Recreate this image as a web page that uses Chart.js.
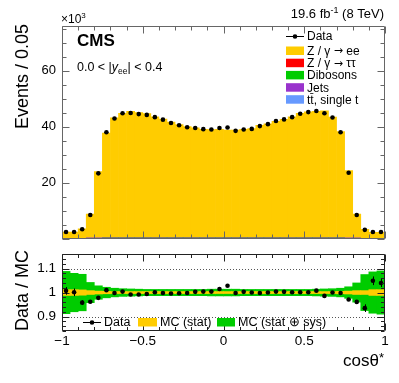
<!DOCTYPE html>
<html><head><meta charset="utf-8">
<script src="https://cdn.jsdelivr.net/npm/chart.js@4"></script>
<style>
html,body{margin:0;padding:0;background:#fff;width:399px;height:383px;overflow:hidden}
#c1{position:absolute;left:0;top:0}
#c2{position:absolute;left:0;top:240px}
</style></head><body>
<canvas id="c1" width="399" height="260"></canvas>
<canvas id="c2" width="399" height="143"></canvas>
<script>
// ---- binning (cos theta*) ----
const binLow = -1, binWidth = 0.05, nBins = 40;
const categories = Array.from({length: nBins}, (_, i) => (binLow + (i + 0.5) * binWidth).toFixed(3));

// ---- top panel: events / 0.05 (x10^3) ----
const dataCounts = [2.3,2.3,3.3,8.4,23.3,38.0,42.9,44.8,44.9,44.5,44.2,43.4,42.5,41.3,40.5,39.8,39.5,39.1,39.0,39.5,
                    39.7,38.5,39.0,39.2,40.2,40.9,42.0,42.6,43.4,44.6,45.2,45.6,44.8,43.3,38.0,23.5,8.4,3.1,2.3,2.3];
const zeeMC     = [2.2,2.2,3.35,8.6,23.7,37.5,42.9,44.5,45.2,44.8,44.4,43.3,42.5,41.4,40.5,39.8,39.3,38.8,38.7,38.8,
                    38.5,38.5,38.8,39.1,40.2,40.8,41.7,42.4,43.3,44.5,45.1,45.2,45.4,43.2,38.0,24.1,8.6,3.2,2.1,2.1];
const tautauMC  = [0.01,0.01,0.01,0.02,0.03,0.04,0.04,0.04,0.04,0.04,0.04,0.04,0.04,0.04,0.04,0.04,0.04,0.04,0.04,0.04,
                    0.04,0.04,0.04,0.04,0.04,0.04,0.04,0.04,0.04,0.04,0.04,0.04,0.04,0.04,0.04,0.03,0.02,0.01,0.01,0.01];
const dibosonMC = [0.05,0.05,0.06,0.08,0.10,0.12,0.12,0.12,0.12,0.12,0.12,0.12,0.12,0.12,0.12,0.12,0.12,0.12,0.12,0.12,
                    0.12,0.12,0.12,0.12,0.12,0.12,0.12,0.12,0.12,0.12,0.12,0.12,0.12,0.12,0.12,0.10,0.08,0.06,0.05,0.05];
const jetsMC    = [0.01,0.01,0.01,0.02,0.02,0.03,0.03,0.03,0.03,0.03,0.03,0.03,0.03,0.03,0.03,0.03,0.03,0.03,0.03,0.03,
                    0.03,0.03,0.03,0.03,0.03,0.03,0.03,0.03,0.03,0.03,0.03,0.03,0.03,0.03,0.03,0.02,0.02,0.01,0.01,0.01];
const ttbarMC   = [0.02,0.02,0.02,0.03,0.04,0.05,0.05,0.05,0.05,0.05,0.05,0.05,0.05,0.05,0.05,0.05,0.05,0.05,0.05,0.05,
                    0.05,0.05,0.05,0.05,0.05,0.05,0.05,0.05,0.05,0.05,0.05,0.05,0.05,0.05,0.05,0.04,0.03,0.02,0.02,0.02];

// ---- bottom panel: Data / MC ----
const ratioVals = [1.007,1.001,0.958,0.962,0.978,1.010,0.998,1.004,0.992,0.992,0.994,1.001,0.998,0.996,0.997,0.998,1.003,1.004,1.004,1.015,
                   1.028,0.998,1.003,1.000,0.998,1.000,1.004,1.003,1.001,1.001,1.001,1.008,0.986,1.000,0.998,0.971,0.961,0.935,1.049,1.040];
const ratioErr  = [0.016,0.016,0.010,0.006,0.004,0.003,0.003,0.003,0.003,0.003,0.003,0.003,0.003,0.003,0.003,0.003,0.003,0.003,0.003,0.003,
                   0.003,0.003,0.003,0.003,0.003,0.003,0.003,0.003,0.003,0.003,0.003,0.003,0.003,0.003,0.003,0.004,0.007,0.016,0.018,0.017];
const mcStatErr = [0.012,0.012,0.011,0.008,0.006,0.005,0.004,0.004,0.004,0.004,0.004,0.004,0.004,0.004,0.004,0.004,0.004,0.004,0.004,0.004,
                   0.004,0.004,0.004,0.004,0.004,0.004,0.004,0.004,0.004,0.004,0.004,0.004,0.004,0.004,0.005,0.006,0.008,0.008,0.012,0.012];
const mcTotErr  = [0.088,0.080,0.076,0.042,0.028,0.022,0.018,0.016,0.015,0.014,0.013,0.013,0.013,0.013,0.013,0.013,0.013,0.013,0.014,0.014,
                   0.014,0.014,0.013,0.013,0.013,0.013,0.013,0.013,0.013,0.013,0.013,0.014,0.015,0.016,0.018,0.024,0.040,0.075,0.086,0.090];

// ---- axis ticks ----
const yTicksTop = [20, 40, 60];
const yTicksRatio = [0.9, 1, 1.1];
const xTicks = [-1, -0.5, 0, 0.5, 1];

const FONT = '"Liberation Sans", Arial, Helvetica, sans-serif';
const fnt = (size, style, fam) => (style ? style + ' ' : '') + size + 'px ' + (fam || FONT);
const YELLOW = '#ffcc00', RED = '#ff0000', GREEN = '#00cc00', PURPLE = '#9933cc', BLUE = '#6699ff';

function drawParts(ctx, x, y, parts, align) {
  let w = 0;
  parts.forEach(p => { ctx.font = p.font; w += ctx.measureText(p.t).width + (p.gap || 0); });
  let cx = align === 'right' ? x - w : x;
  parts.forEach(p => { ctx.font = p.font; ctx.fillText(p.t, cx, y + (p.dy || 0)); cx += ctx.measureText(p.t).width + (p.gap || 0); });
}

function frameTicks(o) {
  return {
    id: 'frameTicks',
    beforeDatasetsDraw(chart) {
      if (!o.dotted) return;
      const {ctx, chartArea: a, scales} = chart;
      ctx.save();
      ctx.strokeStyle = '#555'; ctx.lineWidth = 1; ctx.setLineDash([1, 2]);
      o.dotted.forEach(v => {
        const y = Math.round(scales.y.getPixelForValue(v)) + 0.5;
        ctx.beginPath(); ctx.moveTo(a.left, y); ctx.lineTo(a.right, y); ctx.stroke();
      });
      ctx.restore();
    },
    afterDatasetsDraw(chart) {
      const {ctx, chartArea: a, scales} = chart;
      const xs = scales.xl, ys = scales.y;
      ctx.save();
      ctx.strokeStyle = o.color; ctx.lineWidth = 1;
      ctx.beginPath();
      const L = Math.round(a.left) + 0.5, R = Math.round(a.right) - 0.5;
      const T = Math.round(a.top) + 0.5, B = Math.round(a.bottom) - 0.5;
      ctx.rect(L, T, R - L, B - T);
      for (let k = 0; ; k++) {
        const v = o.yStart + k * o.yStep;
        if (v > ys.max + 1e-9) break;
        const isMaj = o.yMajor.some(m => Math.abs(m - v) < 1e-6);
        const len = isMaj ? o.major : o.minor;
        const y = Math.round(ys.getPixelForValue(v)) + 0.5;
        ctx.moveTo(L, y); ctx.lineTo(L + len, y);
        ctx.moveTo(R, y); ctx.lineTo(R - len, y);
      }
      for (let k = 0; ; k++) {
        const v = -1 + k * 0.1;
        if (v > 1 + 1e-9) break;
        const isMaj = xTicks.some(m => Math.abs(m - v) < 1e-6);
        const len = isMaj ? o.major : o.minor;
        const x = Math.round(xs.getPixelForValue(v)) + 0.5;
        ctx.moveTo(x, B); ctx.lineTo(x, B - len);
        ctx.moveTo(x, T); ctx.lineTo(x, T + len);
      }
      ctx.stroke();
      ctx.restore();
    }
  };
}

// ===== top panel =====
const topTexts = {
  id: 'topTexts',
  afterDraw(chart) {
    const ctx = chart.ctx;
    ctx.save();
    ctx.fillStyle = '#000';
    ctx.textBaseline = 'alphabetic';
    ctx.save();
    ctx.translate(27.5, 24); ctx.rotate(-Math.PI / 2);
    ctx.textAlign = 'right'; ctx.font = fnt(18);
    ctx.fillText('Events / 0.05', 0, 0);
    ctx.restore();
    ctx.textAlign = 'left';
    drawParts(ctx, 61, 23, [{t: '\u00d710', font: fnt(12)}, {t: '3', font: fnt(8), dy: -5}]);
    drawParts(ctx, 384, 18, [{t: '19.6 fb', font: fnt(13)}, {t: '-1', font: fnt(9), dy: -5}, {t: ' (8 TeV)', font: fnt(13)}], 'right');
    ctx.font = fnt(17, 'bold');
    ctx.fillText('CMS', 77, 46);
    drawParts(ctx, 77, 71, [
      {t: '0.0 < |', font: fnt(12.5)},
      {t: 'y', font: fnt(12.5, 'italic')},
      {t: 'ee', font: fnt(8.5), dy: 3},
      {t: '| < 0.4', font: fnt(12.5)}
    ]);
    const ARW = '"DejaVu Sans", sans-serif';
    const rows = [
      {y: 36, parts: [{t: 'Data'}], kind: 'data'},
      {y: 50.5, parts: [{t: 'Z / \u03b3 '}, {t: '\u2192', arrow: true}, {t: ' ee'}], color: YELLOW},
      {y: 62.7, parts: [{t: 'Z / \u03b3 '}, {t: '\u2192', arrow: true}, {t: ' \u03c4\u03c4'}], color: RED},
      {y: 74.9, parts: [{t: 'Dibosons'}], color: GREEN},
      {y: 87.2, parts: [{t: 'Jets'}], color: PURPLE},
      {y: 99.2, parts: [{t: 't\u0074\u0304, single t'}], color: BLUE}
    ];
    ctx.textBaseline = 'middle';
    rows.forEach(r => {
      if (r.kind === 'data') {
        ctx.strokeStyle = '#000'; ctx.lineWidth = 1;
        ctx.beginPath(); ctx.moveTo(286, r.y + 0.5); ctx.lineTo(304, r.y + 0.5); ctx.stroke();
        ctx.beginPath(); ctx.arc(295, r.y + 0.5, 2.3, 0, Math.PI * 2); ctx.fill();
      } else {
        ctx.fillStyle = r.color; ctx.fillRect(286, r.y - 4, 18, 8.5); ctx.fillStyle = '#000';
      }
      drawParts(ctx, 307, r.y + 1, r.parts.map(p => ({t: p.t, font: p.arrow ? fnt(11, '', ARW) : fnt(12)})));
    });
    ctx.restore();
  }
};

new Chart(document.getElementById('c1'), {
  type: 'bar',
  data: {
    labels: categories,
    datasets: [
      {type: 'line', label: 'Data', data: dataCounts, showLine: false, pointRadius: 2.3, pointHoverRadius: 2.3,
       pointBackgroundColor: '#000', pointBorderWidth: 0, order: 0},
      {label: 'Dibosons', data: dibosonMC, backgroundColor: GREEN, stack: 'mc', order: 1},
      {label: 'tt, single t', data: ttbarMC, backgroundColor: BLUE, stack: 'mc', order: 1},
      {label: 'Jets', data: jetsMC, backgroundColor: PURPLE, stack: 'mc', order: 1},
      {label: 'Z/g->tautau', data: tautauMC, backgroundColor: RED, stack: 'mc', order: 1},
      {label: 'Z/g->ee', data: zeeMC, backgroundColor: YELLOW, stack: 'mc', order: 1}
    ]
  },
  options: {
    responsive: false, animation: false,
    datasets: {bar: {categoryPercentage: 1, barPercentage: 1, borderWidth: 0}},
    layout: {padding: {left: 0, right: 14, top: 26, bottom: 21.5}},
    plugins: {legend: {display: false}, tooltip: {enabled: false}},
    scales: {
      x: {stacked: true, display: false},
      xl: {type: 'linear', position: 'bottom', min: -1, max: 1, offset: false, display: false},
      y: {
        stacked: true, min: 0, max: 76,
        afterFit(s) { s.width = 62; },
        afterBuildTicks(s) { s.ticks = yTicksTop.map(v => ({value: v})); },
        border: {display: false},
        grid: {display: false, drawTicks: false},
        ticks: {padding: 6, color: '#000', font: {family: FONT, size: 13}}
      }
    }
  },
  plugins: [frameTicks({color: '#666', yStart: 0, yStep: 5, yMajor: yTicksTop.concat([0]), major: 7, minor: 4}), topTexts]
});

// ===== bottom panel =====
const errBars = {
  id: 'errBars',
  afterDatasetsDraw(chart) {
    const {ctx, scales} = chart;
    ctx.save();
    ctx.strokeStyle = '#000'; ctx.lineWidth = 1;
    ctx.beginPath();
    ratioVals.forEach((r, i) => {
      const x = Math.round(scales.x.getPixelForValue(i)) + 0.5;
      ctx.moveTo(x, scales.y.getPixelForValue(r - ratioErr[i]));
      ctx.lineTo(x, scales.y.getPixelForValue(r + ratioErr[i]));
    });
    ctx.stroke();
    ctx.restore();
  }
};
const bottomTexts = {
  id: 'bottomTexts',
  afterDraw(chart) {
    const ctx = chart.ctx;
    ctx.save();
    ctx.fillStyle = '#000';
    ctx.save();
    ctx.translate(27.5, 10); ctx.rotate(-Math.PI / 2);
    ctx.textAlign = 'right'; ctx.font = fnt(18);
    ctx.fillText('Data / MC', 0, 0);
    ctx.restore();
    drawParts(ctx, 384, 126, [{t: 'cos\u03b8', font: fnt(17)}, {t: '*', font: fnt(13), dy: -4}], 'right');
    const ly = 82;
    ctx.strokeStyle = '#000'; ctx.lineWidth = 1;
    ctx.beginPath(); ctx.moveTo(83, ly + 0.5); ctx.lineTo(101, ly + 0.5); ctx.stroke();
    ctx.beginPath(); ctx.arc(92, ly + 0.5, 2.3, 0, Math.PI * 2); ctx.fill();
    ctx.fillStyle = YELLOW; ctx.fillRect(138, ly - 4, 19, 8.5);
    ctx.fillStyle = GREEN; ctx.fillRect(217, ly - 4, 18, 8.5);
    ctx.fillStyle = '#000';
    ctx.textBaseline = 'middle'; ctx.font = fnt(12.5);
    ctx.fillText('Data', 104, ly + 1);
    ctx.fillText('MC (stat)', 160, ly + 1);
    ctx.fillText('MC (stat \u2295 sys)', 238, ly + 1);
    ctx.restore();
  }
};

new Chart(document.getElementById('c2'), {
  type: 'bar',
  data: {
    labels: categories,
    datasets: [
      {type: 'line', label: 'Data', data: ratioVals, showLine: false, pointRadius: 2.3, pointHoverRadius: 2.3,
       pointBackgroundColor: '#000', pointBorderWidth: 0, order: 0},
      {label: 'MC (stat)', data: mcStatErr.map(e => [1 - e, 1 + e]), backgroundColor: YELLOW, grouped: false, order: 1},
      {label: 'MC (stat+sys)', data: mcTotErr.map(e => [1 - e, 1 + e]), backgroundColor: GREEN, grouped: false, order: 2}
    ]
  },
  options: {
    responsive: false, animation: false,
    datasets: {bar: {categoryPercentage: 1, barPercentage: 1, borderWidth: 0}},
    layout: {padding: {left: 0, right: 14, top: 14, bottom: 0}},
    plugins: {legend: {display: false}, tooltip: {enabled: false}},
    scales: {
      x: {display: false},
      xl: {
        type: 'linear', position: 'bottom', min: -1, max: 1, offset: false,
        afterFit(s) { s.height = 52; },
        afterBuildTicks(s) { s.ticks = xTicks.map(v => ({value: v})); },
        border: {display: false},
        grid: {display: false, drawTicks: false, offset: false},
        ticks: {padding: 2.5, color: '#000', font: {family: FONT, size: 13.5}, maxRotation: 0,
                callback: v => (v < 0 ? '\u2212' + String(-v) : String(v))}
      },
      y: {
        min: 0.84, max: 1.16,
        afterFit(s) { s.width = 62; },
        afterBuildTicks(s) { s.ticks = yTicksRatio.map(v => ({value: v})); },
        border: {display: false},
        grid: {display: false, drawTicks: false},
        ticks: {padding: 6, color: '#000', font: {family: FONT, size: 13.5},
                callback: v => String(Math.round(v * 10) / 10)}
      }
    }
  },
  plugins: [frameTicks({color: '#222', yStart: 0.84, yStep: 0.02, yMajor: yTicksRatio, major: 7, minor: 3.5, dotted: [0.9, 1.1]}), errBars, bottomTexts]
});
</script>
</body></html>
